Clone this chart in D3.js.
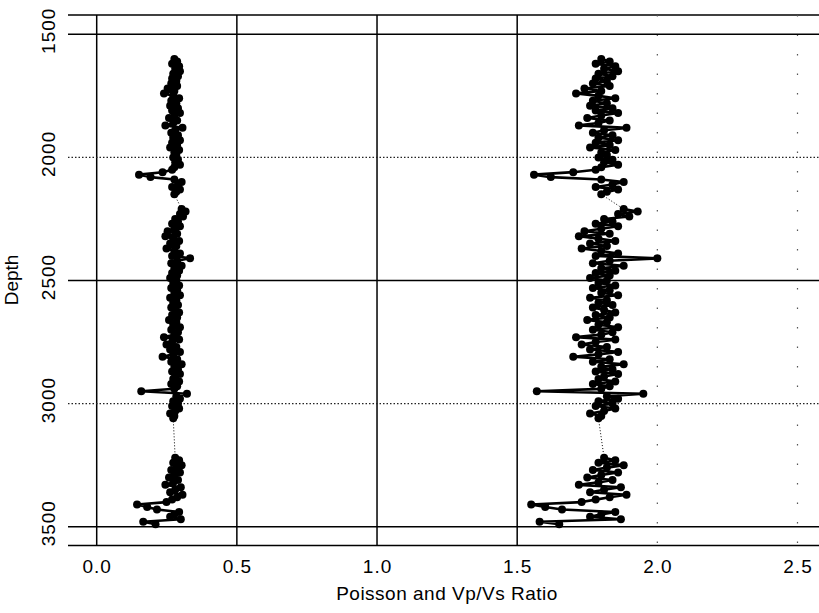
<!DOCTYPE html>
<html>
<head>
<meta charset="utf-8">
<script src="https://cdn.jsdelivr.net/npm/d3@7"></script>
<style>
  html, body { margin: 0; padding: 0; background: #fff; }
  svg { display: block; }
  text { font-family: "Liberation Sans", Arial, Helvetica, sans-serif; fill: #000; }
</style>
</head>
<body>
<svg id="chart" width="819" height="613"></svg>
<script>
// ---- data ----
const depthUpper = [1600,1610,1620,1630,1640,1650,1660,1670,1680,1690,
  1700,1710,1720,1730,1740,1750,1760,1770,1780,1790,
  1800,1810,1820,1830,1840,1850,1860,1870,1880,1890,
  1900,1910,1920,1930,1940,1950,1960,1970,1980,1990,
  2000,2010,2020,2030,2040,2050,2060,2070,2080,2090,
  2100,2110,2120,2130,2140,2150];
const vpvsUpper = [1.80,1.83,1.78,1.85,1.81,1.86,1.79,1.84,1.78,1.82,
  1.77,1.83,1.74,1.80,1.71,1.79,1.85,1.77,1.82,1.76,
  1.84,1.78,1.86,1.80,1.75,1.83,1.79,1.72,1.89,1.81,
  1.77,1.84,1.79,1.86,1.78,1.83,1.76,1.85,1.80,1.82,
  1.79,1.84,1.81,1.86,1.80,1.78,1.70,1.56,1.62,1.80,
  1.88,1.84,1.78,1.86,1.82,1.80];
const poissonUpper = [0.277,0.287,0.269,0.294,0.280,0.297,0.273,0.290,0.269,0.284,
  0.266,0.287,0.253,0.277,0.240,0.273,0.294,0.266,0.284,0.262,
  0.290,0.269,0.297,0.277,0.258,0.287,0.273,0.245,0.306,0.280,
  0.266,0.290,0.273,0.297,0.269,0.287,0.262,0.294,0.277,0.284,
  0.273,0.290,0.280,0.297,0.277,0.269,0.235,0.151,0.192,0.277,
  0.303,0.290,0.269,0.297,0.284,0.277];

const depthMiddle = [2210,2220,2230,2240,2250,2260,2270,2280,2290,2300,
  2310,2320,2330,2340,2350,2360,2370,2380,2390,2400,
  2410,2420,2430,2440,2450,2460,2470,2480,2490,2500,
  2510,2520,2530,2540,2550,2560,2570,2580,2590,2600,
  2610,2620,2630,2640,2650,2660,2670,2680,2690,2700,
  2710,2720,2730,2740,2750,2760,2770,2780,2790,2800,
  2810,2820,2830,2840,2850,2860,2870,2880,2890,2900,
  2910,2920,2930,2940,2950,2960,2970,2980,2990,3000,
  3010,3020,3030,3040,3050,3060];
const vpvsMiddle = [1.88,1.93,1.86,1.90,1.81,1.84,1.78,1.86,1.80,1.74,
  1.83,1.72,1.79,1.85,1.76,1.82,1.73,1.80,1.86,1.78,
  2.00,1.83,1.77,1.88,1.80,1.85,1.78,1.83,1.76,1.82,
  1.79,1.85,1.77,1.83,1.80,1.86,1.76,1.82,1.79,1.84,
  1.77,1.81,1.85,1.78,1.83,1.75,1.82,1.79,1.86,1.77,
  1.84,1.80,1.71,1.85,1.78,1.73,1.82,1.76,1.86,1.79,
  1.70,1.83,1.77,1.88,1.80,1.84,1.78,1.86,1.81,1.79,
  1.85,1.77,1.83,1.80,1.57,1.95,1.82,1.86,1.79,1.84,
  1.78,1.85,1.81,1.76,1.80,1.79];
const poissonMiddle = [0.303,0.317,0.297,0.308,0.280,0.290,0.269,0.297,0.277,0.253,
  0.287,0.245,0.273,0.294,0.262,0.284,0.249,0.277,0.297,0.269,
  0.333,0.287,0.266,0.303,0.277,0.294,0.269,0.287,0.262,0.284,
  0.273,0.294,0.266,0.287,0.277,0.297,0.262,0.284,0.273,0.290,
  0.266,0.280,0.294,0.269,0.287,0.258,0.284,0.273,0.297,0.266,
  0.290,0.277,0.240,0.294,0.269,0.249,0.284,0.262,0.297,0.273,
  0.235,0.287,0.266,0.303,0.277,0.290,0.269,0.297,0.280,0.273,
  0.294,0.266,0.287,0.277,0.159,0.322,0.284,0.297,0.273,0.290,
  0.269,0.294,0.280,0.262,0.277,0.273];

const depthLower = [3220,3230,3240,3250,3260,3270,3280,3290,3300,3310,
  3320,3330,3340,3350,3360,3370,3380,3390,3400,3410,
  3420,3430,3440,3450,3460,3470,3480,3490];
const vpvsLower = [1.81,1.85,1.79,1.88,1.82,1.77,1.86,1.80,1.75,1.84,
  1.79,1.72,1.87,1.81,1.76,1.89,1.83,1.78,1.73,1.55,
  1.60,1.66,1.85,1.80,1.76,1.87,1.58,1.65];
const poissonLower = [0.280,0.294,0.273,0.303,0.284,0.266,0.297,0.277,0.258,0.290,
  0.273,0.245,0.300,0.280,0.262,0.306,0.287,0.269,0.249,0.144,
  0.180,0.215,0.294,0.277,0.262,0.300,0.166,0.210];

const xTicks = [0, 0.5, 1.0, 1.5, 2.0, 2.5];
const yTicks = [1500, 2000, 2500, 3000, 3500];
const xSolidGrid = [0, 0.5, 1.0, 1.5];
const xDottedGrid = [2.0, 2.5];
const ySolidGrid = [1500, 2500, 3500];
const yDottedGrid = [2000, 3000];
const xTitle = "Poisson and Vp/Vs Ratio";
const yTitle = "Depth";

// ---- drawing ----
const svg = d3.select("#chart");
const x = d3.scaleLinear().domain([0, 2.5]).range([96.7, 797.5]);
const y = d3.scaleLinear().domain([1500, 3500]).range([34.3, 526.7]);
const frameTop = 15, frameBottom = 545.5, frameLeft = 68, frameRight = 819;

// frame lines (top & bottom only)
svg.append("line").attr("x1", frameLeft).attr("x2", frameRight)
  .attr("y1", frameTop).attr("y2", frameTop)
  .attr("stroke", "#000").attr("stroke-width", 1.6);
svg.append("line").attr("x1", frameLeft).attr("x2", frameRight)
  .attr("y1", frameBottom).attr("y2", frameBottom)
  .attr("stroke", "#000").attr("stroke-width", 1.6);

// grid
const g = svg.append("g");
g.selectAll(".vs").data(xSolidGrid).enter().append("line")
  .attr("x1", d => x(d)).attr("x2", d => x(d))
  .attr("y1", frameTop).attr("y2", frameBottom)
  .attr("stroke", "#000").attr("stroke-width", 1.5);
g.selectAll(".vd").data(xDottedGrid).enter().append("line")
  .attr("x1", d => x(d)).attr("x2", d => x(d))
  .attr("y1", frameTop).attr("y2", frameBottom)
  .attr("stroke", "#555").attr("stroke-width", 1.2)
  .attr("stroke-dasharray", "1.5,18");
g.selectAll(".hs").data(ySolidGrid).enter().append("line")
  .attr("x1", frameLeft).attr("x2", frameRight)
  .attr("y1", d => y(d)).attr("y2", d => y(d))
  .attr("stroke", "#000").attr("stroke-width", 1.6);
g.selectAll(".hd").data(yDottedGrid).enter().append("line")
  .attr("x1", frameLeft).attr("x2", frameRight)
  .attr("y1", d => y(d)).attr("y2", d => y(d))
  .attr("stroke", "#222").attr("stroke-width", 1.1)
  .attr("stroke-dasharray", "1.5,2");

// series
const segments = [
  { depth: depthUpper, p: poissonUpper, v: vpvsUpper },
  { depth: depthMiddle, p: poissonMiddle, v: vpvsMiddle },
  { depth: depthLower, p: poissonLower, v: vpvsLower }
];
const line = d3.line().x(d => x(d[0])).y(d => y(d[1]));
const marks = svg.append("g");

["p", "v"].forEach(key => {
  const segPts = segments.map(s => s.depth.map((dd, i) => [s[key][i], dd]));
  // thin dotted connectors across the gaps
  for (let i = 0; i < segPts.length - 1; i++) {
    const a = segPts[i][segPts[i].length - 1], b = segPts[i + 1][0];
    marks.append("path").attr("d", line([a, b]))
      .attr("fill", "none").attr("stroke", "#000")
      .attr("stroke-width", 1).attr("stroke-dasharray", "1,2");
  }
  segPts.forEach(pts => {
    marks.append("path").attr("d", line(pts))
      .attr("fill", "none").attr("stroke", "#000").attr("stroke-width", 2.6)
      .attr("stroke-linejoin", "round");
    marks.selectAll(null).data(pts).enter().append("circle")
      .attr("cx", d => x(d[0])).attr("cy", d => y(d[1]))
      .attr("r", 4).attr("fill", "#000");
  });
});

// x axis labels
const xAxis = d3.axisBottom(x).tickValues(xTicks)
  .tickFormat(d3.format(".1f")).tickSize(0).tickPadding(0);
const xg = svg.append("g").attr("transform", "translate(0,559)").call(xAxis);
xg.select(".domain").remove();
xg.selectAll("text").attr("font-size", 19).attr("dy", "0.71em")
  .attr("letter-spacing", "1px")
  .style("font-family", '"Liberation Sans", Arial, sans-serif').attr("fill", "#000");

// y axis labels (rotated)
const yAxis = d3.axisLeft(y).tickValues(yTicks)
  .tickFormat(d3.format("d")).tickSize(0).tickPadding(0);
const yg = svg.append("g").attr("transform", "translate(55,0)").call(yAxis);
yg.select(".domain").remove();
yg.selectAll(".tick text")
  .attr("x", 0).attr("dy", 0)
  .attr("transform", "rotate(-90) translate(4,0)")
  .attr("text-anchor", "middle")
  .attr("font-size", 19).attr("letter-spacing", "1px")
  .style("font-family", '"Liberation Sans", Arial, sans-serif').attr("fill", "#000");

// titles
svg.append("text").attr("x", 447).attr("y", 600)
  .attr("text-anchor", "middle").attr("font-size", 19)
  .attr("letter-spacing", "0.5px").text(xTitle);
svg.append("text").attr("transform", "translate(18,280) rotate(-90)")
  .attr("text-anchor", "middle").attr("font-size", 19).text(yTitle);
</script>
</body>
</html>
